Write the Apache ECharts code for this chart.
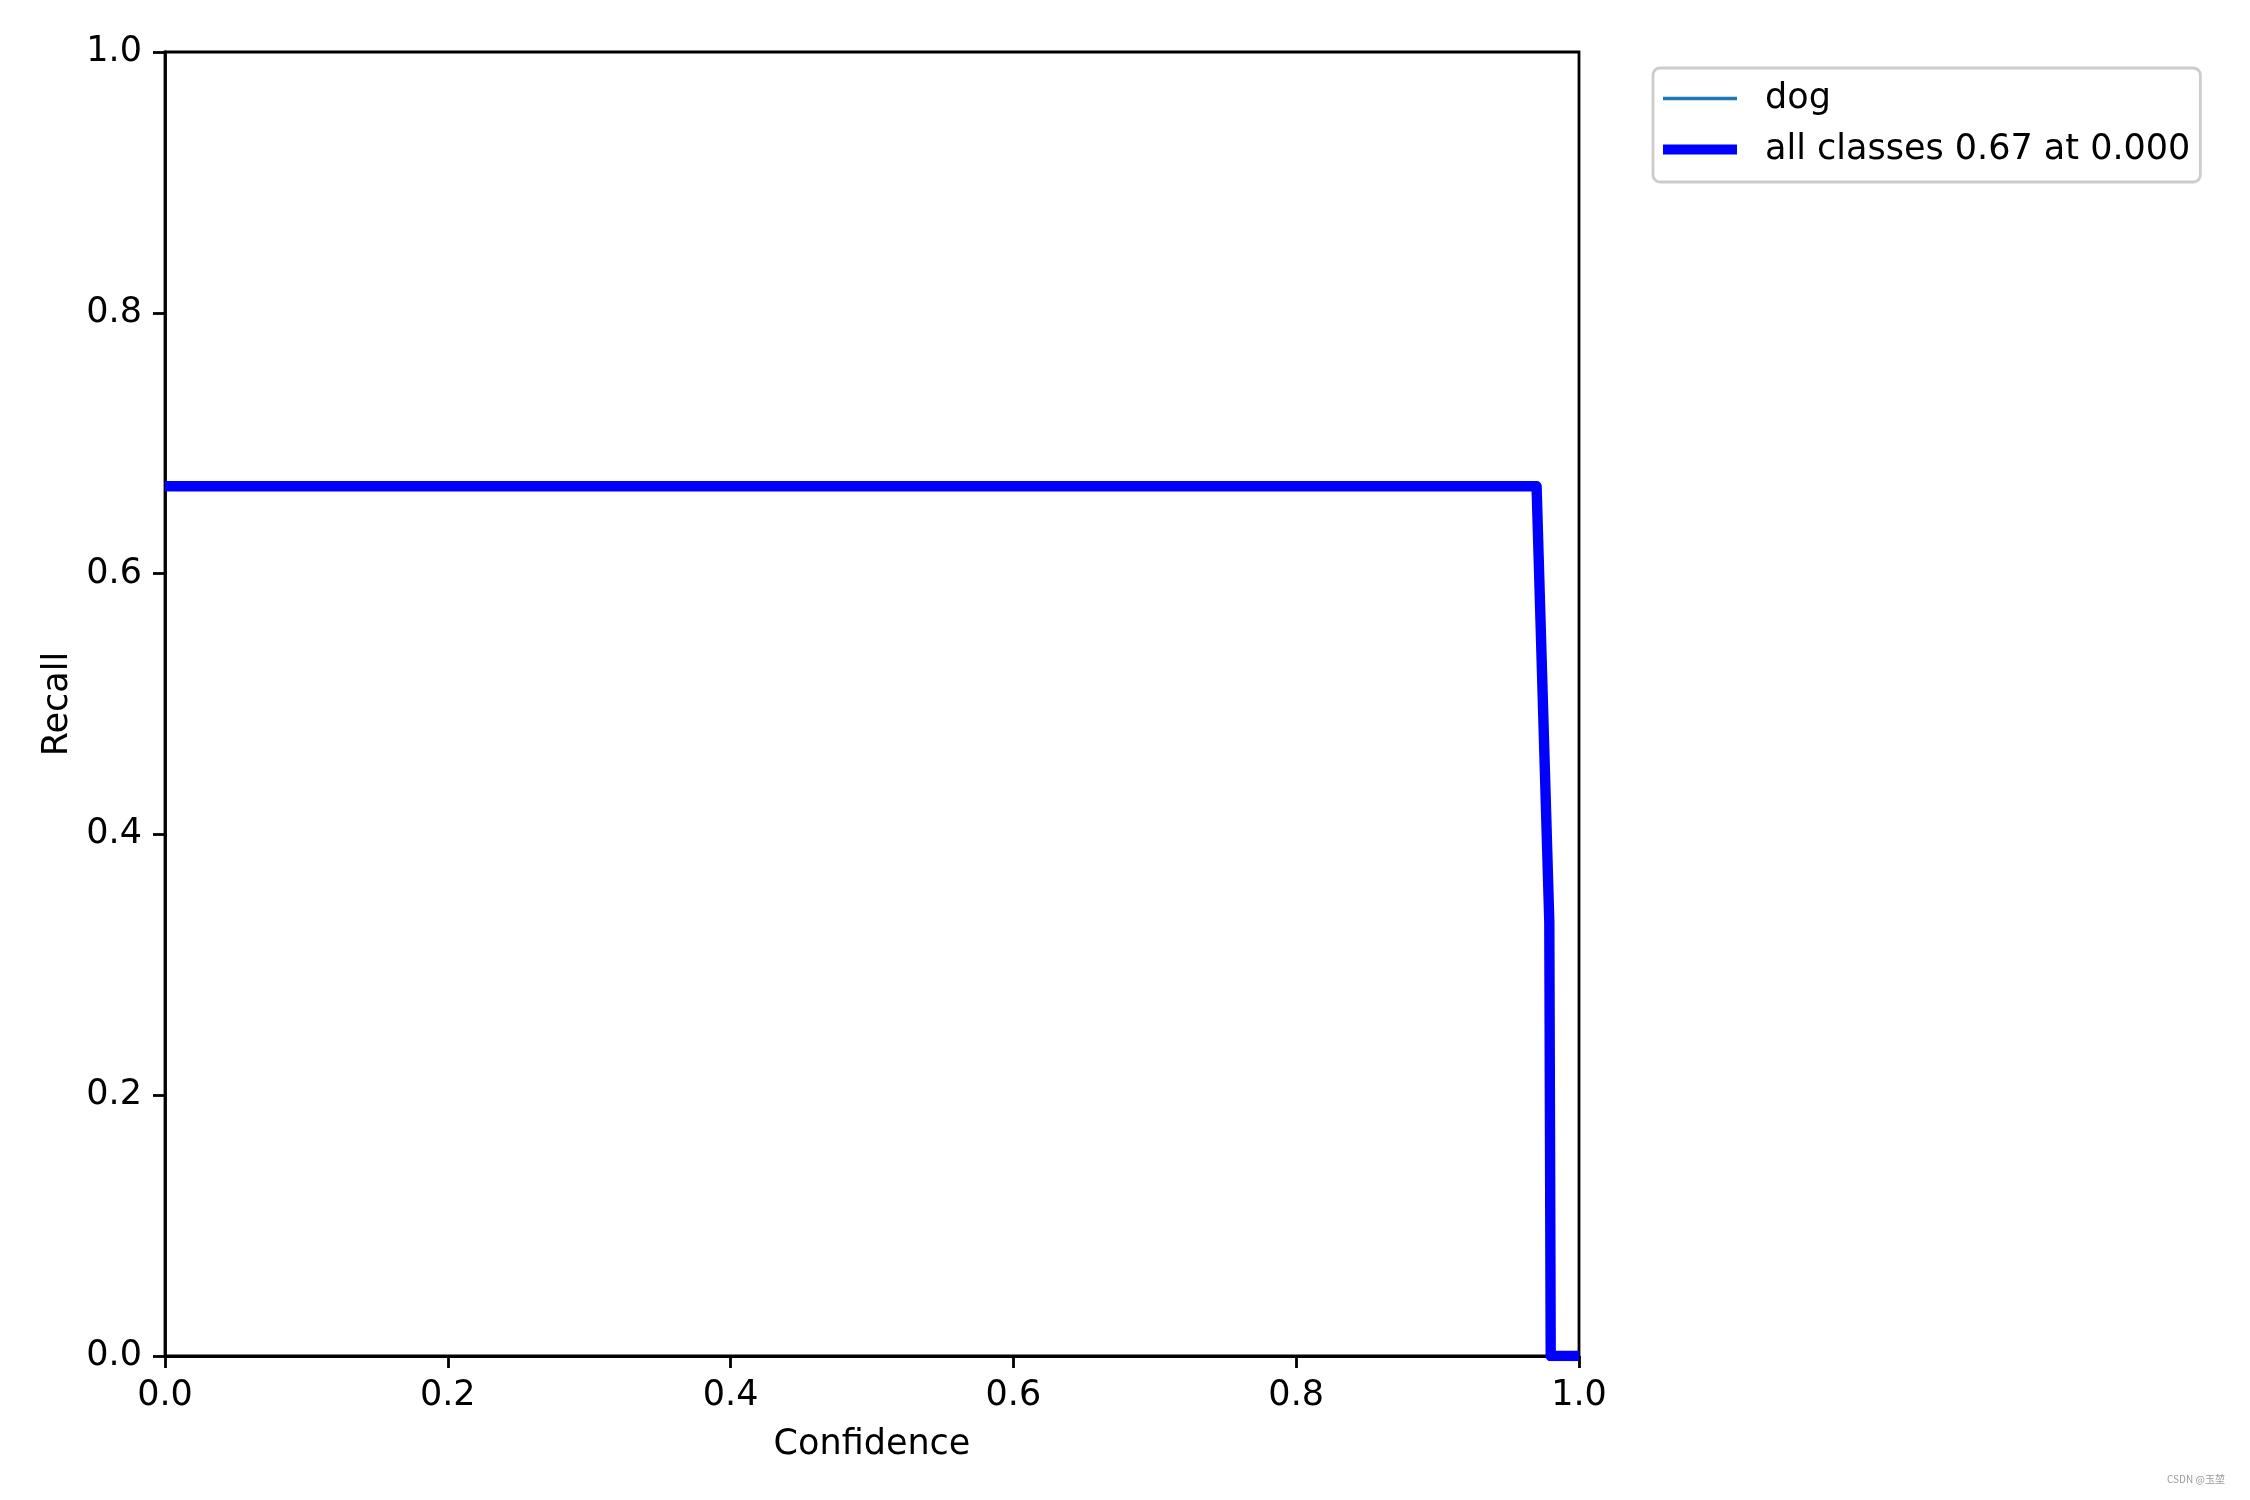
<!DOCTYPE html>
<html>
<head>
<meta charset="utf-8">
<script src="https://cdn.jsdelivr.net/npm/echarts@6/dist/echarts.min.js"></script>
<style>
html,body{margin:0;padding:0;background:#fff;}
#chart{width:2250px;height:1500px;}
</style>
</head>
<body>
<div id="chart"></div>
<script>
const confidence = [0.0, 0.970, 0.979, 0.980, 1.0];
const dogRecall = [0.667, 0.667, 0.333, 0.0, 0.0];
const allRecall = [0.667, 0.667, 0.333, 0.0, 0.0];
const seriesNames = ['dog', 'all classes 0.67 at 0.000'];
const xTicks = [0.0, 0.2, 0.4, 0.6, 0.8, 1.0];
const yTicks = [0.0, 0.2, 0.4, 0.6, 0.8, 1.0];

const pairs = (xs, ys) => xs.map((x, i) => [x, ys[i]]);
const FONT = 'DejaVu Sans';

const chart = echarts.init(document.getElementById('chart'), null, {renderer: 'canvas'});
chart.setOption({
  animation: false,
  backgroundColor: '#ffffff',
  grid: {
    left: 165, top: 52, width: 1414, height: 1304,
    show: true, borderColor: '#000', borderWidth: 2.8, backgroundColor: 'transparent'
  },
  legend: {
    orient: 'vertical',
    left: 1653, top: 68,
    padding: [13, 10, 15, 10],
    itemGap: 16,
    itemWidth: 74,
    itemHeight: 40,
    symbolKeepAspect: true,
    backgroundColor: '#ffffff',
    borderColor: '#cccccc',
    borderWidth: 2.8,
    borderRadius: 7,
    textStyle: {fontFamily: FONT, fontSize: 35, color: '#000', padding: [0, 0, 0, 23]},
    data: [
      {name: seriesNames[0], icon: 'path://M0,0H74V3.5H0Z', itemStyle: {color: '#1f77b4'}},
      {name: seriesNames[1], icon: 'path://M0,0H78V10.4H0Z', itemStyle: {color: '#0000ff'}}
    ]
  },
  xAxis: {
    type: 'value', min: 0, max: 1, interval: 0.2,
    name: 'Confidence', nameLocation: 'middle', nameGap: 71,
    nameTextStyle: {fontFamily: FONT, fontSize: 35, color: '#000'},
    axisLine: {show: true, lineStyle: {color: '#000', width: 2.8}},
    axisTick: {show: true, inside: false, length: 12, lineStyle: {color: '#000', width: 2.8}},
    axisLabel: {fontFamily: FONT, fontSize: 35, color: '#000', margin: 22,
      formatter: v => v.toFixed(1)},
    splitLine: {show: false}
  },
  yAxis: {
    type: 'value', min: 0, max: 1, interval: 0.2,
    name: 'Recall', nameLocation: 'middle', nameGap: 88,
    nameTextStyle: {fontFamily: FONT, fontSize: 35, color: '#000'},
    axisLine: {show: true, lineStyle: {color: '#000', width: 2.8}},
    axisTick: {show: true, inside: false, length: 12, lineStyle: {color: '#000', width: 2.8}},
    axisLabel: {fontFamily: FONT, fontSize: 35, color: '#000', margin: 23,
      formatter: v => v.toFixed(1)},
    splitLine: {show: false}
  },
  series: [
    {
      name: seriesNames[0], type: 'line', data: pairs(confidence, dogRecall),
      showSymbol: false, symbol: 'none', clip: true, z: 2,
      color: '#1f77b4',
      lineStyle: {color: '#1f77b4', width: 3.5, join: 'round'}
    },
    {
      name: seriesNames[1], type: 'line', data: pairs(confidence, allRecall),
      showSymbol: false, symbol: 'none', clip: true, z: 3,
      color: '#0000ff',
      lineStyle: {color: '#0000ff', width: 10.4, join: 'round'}
    }
  ],
  graphic: [
    {type: 'text', left: 2167, top: 1474, z: 10,
      style: {text: 'CSDN @玉堃', fontSize: 10, fill: '#999999', fontFamily: 'Noto Sans CJK SC'}}
  ]
});
</script>
</body>
</html>
